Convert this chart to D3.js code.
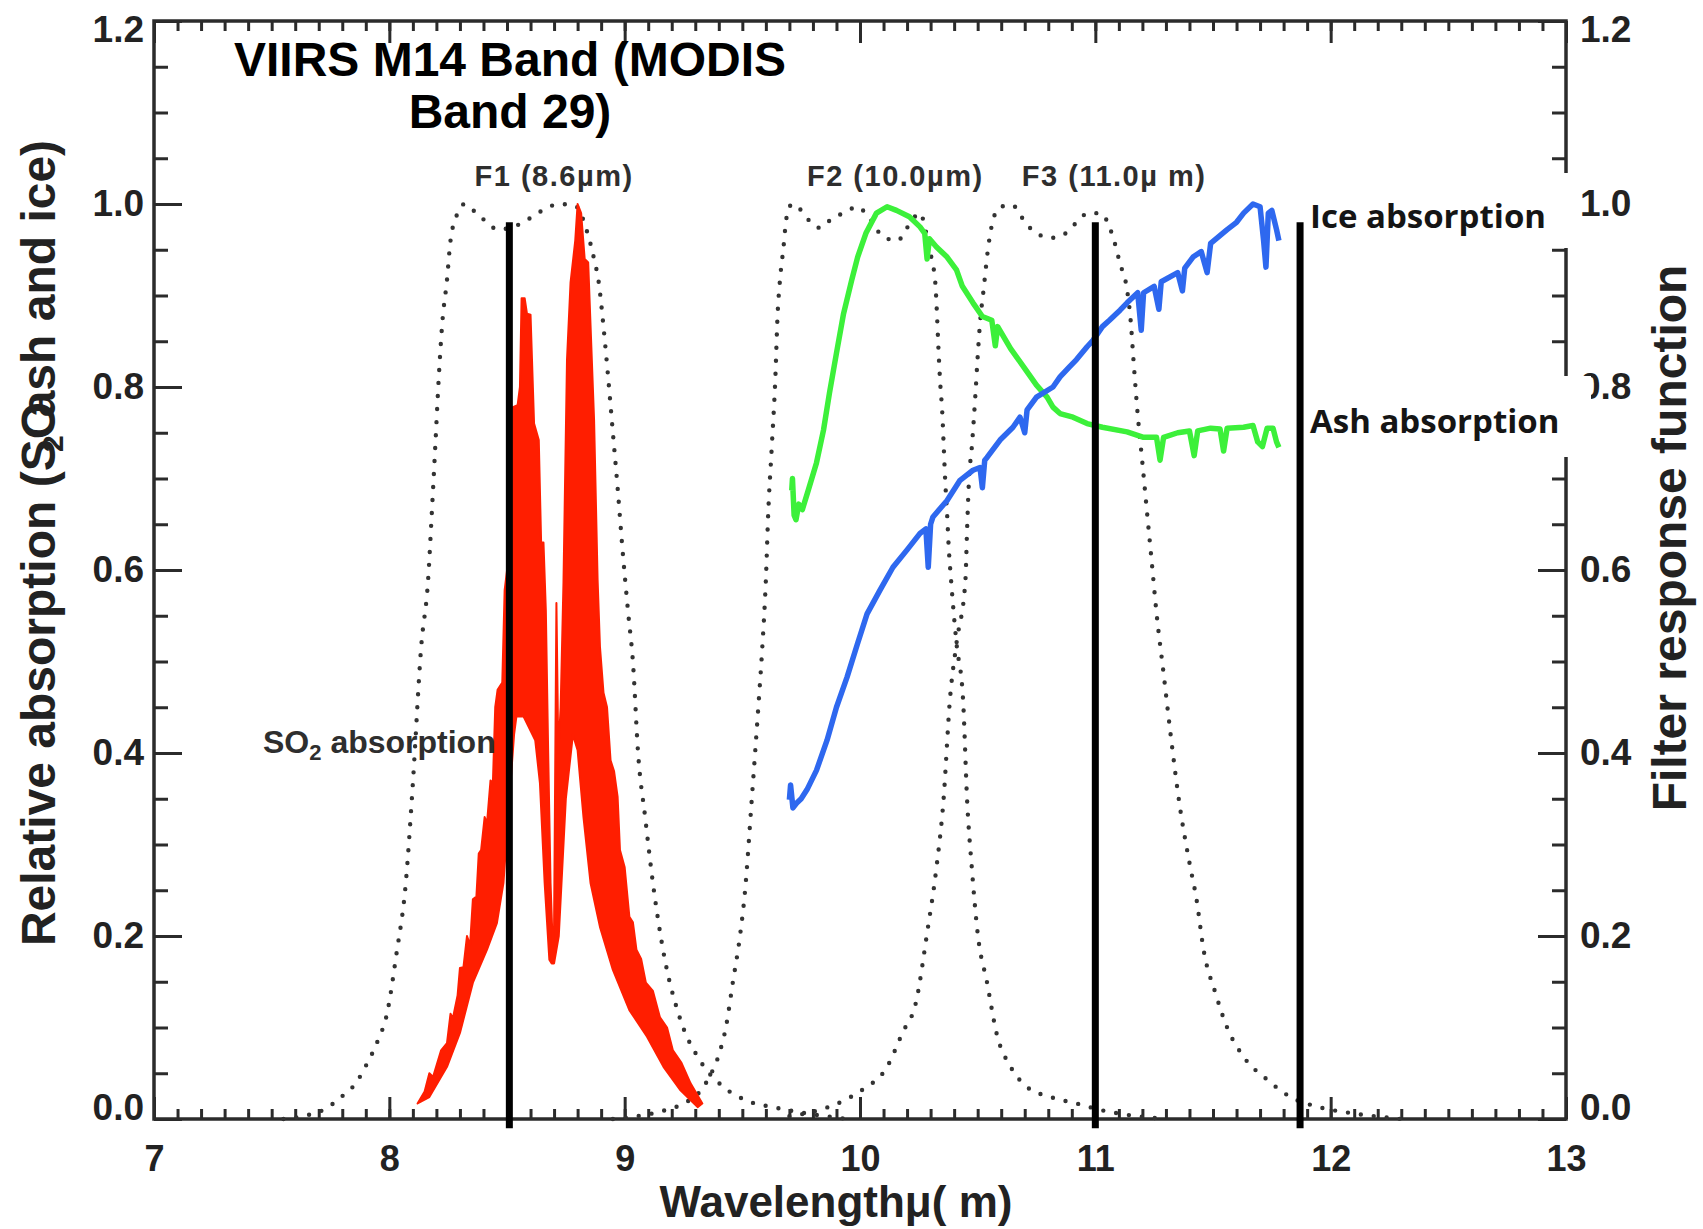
<!DOCTYPE html>
<html>
<head>
<meta charset="utf-8">
<script src="https://cdnjs.cloudflare.com/ajax/libs/d3/7.8.5/d3.min.js"></script>
</head>
<style>
body {
    margin: 0;
    background: #fff;
}
svg text {
    font-family: "Liberation Sans", Arial, Helvetica, sans-serif;
}
</style>
<body>
<svg id="chart"></svg>
<script>

// axis ticks
const xTicks = [7, 8, 9, 10, 11, 12, 13];
const yTicks = [0, 0.2, 0.4, 0.6, 0.8, 1.0, 1.2];

// filter response functions [wavelength, response]
const filterF1 = [[7.55, 0], [7.65, 0.004], [7.72, 0.01], [7.8, 0.025], [7.86, 0.04], [7.9, 0.058],
    [7.95, 0.085], [7.99, 0.115], [8.03, 0.18], [8.07, 0.258], [8.1, 0.367], [8.135, 0.515],
    [8.165, 0.59], [8.18, 0.66], [8.195, 0.734], [8.21, 0.81], [8.225, 0.87], [8.245, 0.917],
    [8.26, 0.96], [8.29, 0.99], [8.32, 1.0], [8.37, 0.99], [8.415, 0.98], [8.46, 0.972],
    [8.57, 0.98], [8.63, 0.99], [8.725, 1.0], [8.79, 0.998], [8.84, 0.97], [8.87, 0.94],
    [8.89, 0.914], [8.91, 0.866], [8.93, 0.81], [8.95, 0.75], [8.97, 0.69], [8.99, 0.625],
    [9.015, 0.553], [9.035, 0.5], [9.057, 0.4], [9.087, 0.33], [9.12, 0.258], [9.163, 0.185],
    [9.235, 0.11], [9.32, 0.064], [9.42, 0.035], [9.52, 0.02], [9.65, 0.012], [9.8, 0.005], [9.95, 0]];

const filterF2 = [[8.95, 0], [9.05, 0.003], [9.15, 0.008], [9.25, 0.017], [9.32, 0.03], [9.36, 0.046],
    [9.4, 0.07], [9.43, 0.1], [9.46, 0.15], [9.49, 0.2], [9.51, 0.245], [9.54, 0.349], [9.57, 0.458],
    [9.585, 0.516], [9.6, 0.589], [9.61, 0.662], [9.625, 0.734], [9.64, 0.808], [9.65, 0.88],
    [9.66, 0.917], [9.675, 0.953], [9.685, 0.98], [9.7, 0.997], [9.715, 1.0], [9.76, 0.99],
    [9.79, 0.98], [9.83, 0.974], [9.885, 0.985], [9.93, 0.99], [9.99, 0.997], [10.03, 0.988],
    [10.1, 0.964], [10.16, 0.96], [10.2, 0.974], [10.255, 0.99], [10.285, 0.964], [10.305, 0.939],
    [10.32, 0.914], [10.327, 0.88], [10.333, 0.844], [10.34, 0.808], [10.35, 0.77], [10.356, 0.734],
    [10.362, 0.698], [10.37, 0.662], [10.377, 0.625], [10.387, 0.589], [10.41, 0.52], [10.438, 0.458],
    [10.455, 0.349], [10.475, 0.275], [10.5, 0.203], [10.54, 0.149], [10.58, 0.094], [10.64, 0.057],
    [10.71, 0.035], [10.81, 0.024], [10.92, 0.017], [11.02, 0.01], [11.15, 0.004], [11.3, 0]];

const filterF3 = [[9.7, 0.003], [9.8, 0.008], [9.93, 0.02], [10.01, 0.032], [10.115, 0.057], [10.18, 0.094],
    [10.24, 0.13], [10.285, 0.203], [10.325, 0.275], [10.355, 0.349], [10.382, 0.458], [10.41, 0.52],
    [10.448, 0.589], [10.455, 0.644], [10.463, 0.698], [10.475, 0.734], [10.49, 0.79], [10.5, 0.833],
    [10.51, 0.87], [10.525, 0.906], [10.545, 0.953], [10.575, 0.99], [10.6, 0.997], [10.645, 0.999],
    [10.71, 0.977], [10.765, 0.966], [10.815, 0.963], [10.88, 0.969], [10.92, 0.98], [10.97, 0.99],
    [11.02, 0.99], [11.075, 0.964], [11.105, 0.935], [11.135, 0.906], [11.15, 0.873], [11.162, 0.83],
    [11.18, 0.77], [11.2, 0.717], [11.22, 0.662], [11.24, 0.608], [11.26, 0.553], [11.29, 0.487],
    [11.32, 0.42], [11.36, 0.34], [11.4, 0.28], [11.43, 0.24], [11.46, 0.185], [11.51, 0.138],
    [11.56, 0.1], [11.63, 0.068], [11.73, 0.043], [11.83, 0.024], [11.95, 0.013], [12.1, 0.006], [12.3, 0]];

// SO2 absorption band, upper and lower edge of the noisy trace
const so2Upper = [[8.12, 0.017], [8.15, 0.03], [8.17, 0.05], [8.186, 0.046], [8.22, 0.075], [8.245, 0.083],
    [8.26, 0.115], [8.27, 0.11], [8.29, 0.135], [8.3, 0.165], [8.315, 0.166], [8.33, 0.2], [8.343, 0.19],
    [8.355, 0.24], [8.37, 0.243], [8.38, 0.29], [8.39, 0.294], [8.405, 0.33], [8.415, 0.323],
    [8.43, 0.37], [8.44, 0.367], [8.45, 0.45], [8.46, 0.469], [8.48, 0.477],
    [8.49, 0.578], [8.51, 0.62], [8.525, 0.778], [8.545, 0.78], [8.555, 0.8], [8.562, 0.897],
    [8.575, 0.897], [8.585, 0.88], [8.6, 0.879], [8.615, 0.76], [8.635, 0.742], [8.645, 0.63],
    [8.655, 0.63], [8.665, 0.556], [8.675, 0.4], [8.685, 0.258], [8.695, 0.185], [8.7, 0.21],
    [8.71, 0.564], [8.718, 0.4], [8.728, 0.45], [8.74, 0.586], [8.755, 0.83], [8.77, 0.914],
    [8.79, 0.96], [8.8, 1.0], [8.815, 0.99], [8.83, 0.94], [8.845, 0.936], [8.87, 0.764],
    [8.885, 0.589], [8.895, 0.516], [8.91, 0.466], [8.925, 0.45], [8.94, 0.392], [8.955, 0.38],
    [8.97, 0.352], [8.98, 0.294], [9.0, 0.275], [9.02, 0.221], [9.035, 0.215], [9.05, 0.185],
    [9.07, 0.175], [9.09, 0.149], [9.12, 0.14], [9.15, 0.111], [9.18, 0.1], [9.205, 0.075],
    [9.24, 0.062], [9.28, 0.039], [9.33, 0.017]];

const so2Lower = [[8.12, 0.017], [8.17, 0.024], [8.245, 0.057], [8.3, 0.094], [8.355, 0.149], [8.415, 0.185],
    [8.457, 0.214], [8.485, 0.258], [8.51, 0.35], [8.53, 0.42], [8.54, 0.44], [8.57, 0.44],
    [8.62, 0.414], [8.64, 0.367], [8.66, 0.258], [8.68, 0.174], [8.69, 0.17], [8.7, 0.17],
    [8.72, 0.2], [8.75, 0.35], [8.78, 0.42], [8.8, 0.403], [8.825, 0.33], [8.855, 0.258],
    [8.895, 0.21], [8.95, 0.163], [9.02, 0.119], [9.095, 0.09], [9.165, 0.057], [9.235, 0.032],
    [9.31, 0.013], [9.33, 0.017]];

// ash absorption
const ashAbs = [[9.71, 0.687], [9.713, 0.7], [9.72, 0.66], [9.728, 0.655], [9.74, 0.672], [9.755, 0.666],
    [9.78, 0.687], [9.815, 0.717], [9.845, 0.753], [9.87, 0.793], [9.9, 0.837], [9.93, 0.88],
    [9.965, 0.917], [9.99, 0.942], [10.025, 0.968], [10.07, 0.99], [10.115, 0.997], [10.155, 0.993],
    [10.21, 0.986], [10.255, 0.975], [10.275, 0.968], [10.285, 0.94], [10.295, 0.962], [10.325, 0.953],
    [10.37, 0.942], [10.41, 0.928], [10.435, 0.91], [10.48, 0.892], [10.52, 0.877], [10.56, 0.873],
    [10.575, 0.845], [10.585, 0.866], [10.64, 0.842], [10.69, 0.824], [10.75, 0.802], [10.795, 0.789],
    [10.82, 0.778], [10.85, 0.771], [10.905, 0.767], [10.965, 0.76], [11.03, 0.756], [11.135, 0.751],
    [11.205, 0.745], [11.26, 0.745], [11.275, 0.72], [11.29, 0.745], [11.35, 0.75], [11.4, 0.752],
    [11.42, 0.725], [11.435, 0.752], [11.49, 0.755], [11.53, 0.754], [11.545, 0.73], [11.56, 0.755],
    [11.63, 0.756], [11.67, 0.758], [11.69, 0.74], [11.71, 0.735], [11.73, 0.755], [11.755, 0.755],
    [11.77, 0.74], [11.78, 0.734]];

// ice absorption
const iceAbs = [[9.7, 0.349], [9.705, 0.365], [9.715, 0.34], [9.73, 0.345], [9.75, 0.35], [9.775, 0.36],
    [9.815, 0.381], [9.86, 0.414], [9.9, 0.45], [9.945, 0.483], [9.99, 0.52], [10.03, 0.552],
    [10.085, 0.578], [10.14, 0.603], [10.2, 0.622], [10.255, 0.64], [10.28, 0.645], [10.29, 0.603],
    [10.3, 0.65], [10.31, 0.658], [10.37, 0.676], [10.425, 0.698], [10.48, 0.709], [10.51, 0.712],
    [10.52, 0.69], [10.53, 0.72], [10.54, 0.723], [10.595, 0.742], [10.65, 0.756], [10.68, 0.767],
    [10.7, 0.75], [10.71, 0.775], [10.75, 0.789], [10.82, 0.8], [10.85, 0.811], [10.89, 0.822],
    [10.92, 0.83], [10.965, 0.844], [10.99, 0.851], [11.03, 0.866], [11.06, 0.873], [11.105, 0.884],
    [11.135, 0.892], [11.18, 0.903], [11.195, 0.862], [11.205, 0.903], [11.25, 0.91], [11.27, 0.885],
    [11.28, 0.915], [11.35, 0.925], [11.37, 0.905], [11.38, 0.93], [11.415, 0.942], [11.45, 0.948],
    [11.475, 0.925], [11.49, 0.957], [11.56, 0.972], [11.6, 0.98], [11.63, 0.99], [11.67, 1.0],
    [11.7, 0.997], [11.715, 0.96], [11.725, 0.931], [11.735, 0.99], [11.75, 0.993], [11.77, 0.972],
    [11.78, 0.96]];

// vertical band markers
const markerLines = [8.51, 11.0, 11.87];

const filterLabels = [
    { text: 'F1 (8.6µm)', at: 8.7 },
    { text: 'F2 (10.0µm)', at: 10.15 },
    { text: 'F3 (11.0µ m)', at: 11.08 }
];

const width = 1703, height = 1229;

const svg = d3.select('svg#chart')
    .attr('width', width)
    .attr('height', height);

const x = d3.scaleLinear().domain([7, 13]).range([154, 1566]);
const y = d3.scaleLinear().domain([0, 1.2]).range([1119, 21]);

const INK = '#2b2b2b';

function styleAxis(g, fontSize) {
    g.select('.domain').remove();
    g.selectAll('.tick line').attr('stroke', INK).attr('stroke-width', 3);
    g.selectAll('.tick text')
        .attr('fill', '#222')
        .attr('font-size', fontSize)
        .attr('font-weight', 'bold')
        .attr('font-family', '"Liberation Sans", Arial, sans-serif');
}

// x axes (bottom with labels, top mirrored)
svg.append('g').attr('transform', `translate(0,${y(0)})`)
    .call(d3.axisBottom(x).ticks(60).tickFormat('').tickSize(-10).tickSizeOuter(0))
    .call(g => styleAxis(g, 36));
svg.append('g').attr('transform', `translate(0,${y(0)})`)
    .call(d3.axisBottom(x).tickValues(xTicks).tickFormat(d3.format('d')).tickSize(-22).tickSizeOuter(0).tickPadding(26))
    .call(g => styleAxis(g, 36));
svg.append('g').attr('transform', `translate(0,${y(1.2)})`)
    .call(d3.axisTop(x).ticks(60).tickFormat('').tickSize(-10).tickSizeOuter(0))
    .call(g => styleAxis(g, 36));
svg.append('g').attr('transform', `translate(0,${y(1.2)})`)
    .call(d3.axisTop(x).tickValues(xTicks).tickFormat('').tickSize(-22).tickSizeOuter(0))
    .call(g => styleAxis(g, 36));

// y axes (left absorption, right filter response)
function nudgeEnds(g) {
    g.selectAll('.tick text')
        .attr('y', d => d === 0 ? -11 : (d === 1.2 ? 9 : 0));
}
svg.append('g').attr('transform', `translate(${x(7)},0)`)
    .call(d3.axisLeft(y).ticks(24).tickFormat('').tickSize(-14).tickSizeOuter(0))
    .call(g => styleAxis(g, 37));
svg.append('g').attr('transform', `translate(${x(7)},0)`)
    .call(d3.axisLeft(y).tickValues(yTicks).tickFormat(d3.format('.1f')).tickSize(-28).tickSizeOuter(0).tickPadding(10))
    .call(g => styleAxis(g, 37))
    .call(nudgeEnds);
svg.append('g').attr('transform', `translate(${x(13)},0)`)
    .call(d3.axisRight(y).ticks(24).tickFormat('').tickSize(-14).tickSizeOuter(0))
    .call(g => styleAxis(g, 37));
svg.append('g').attr('transform', `translate(${x(13)},0)`)
    .call(d3.axisRight(y).tickValues(yTicks).tickFormat(d3.format('.1f')).tickSize(-28).tickSizeOuter(0).tickPadding(14))
    .call(g => styleAxis(g, 37))
    .call(nudgeEnds);

// frame
svg.append('rect')
    .attr('x', x(7))
    .attr('y', y(1.2))
    .attr('width', x(13) - x(7))
    .attr('height', y(0) - y(1.2))
    .attr('fill', 'none')
    .attr('stroke', INK)
    .attr('stroke-width', 3.5);

const line = d3.line().x(d => x(d[0])).y(d => y(d[1]));
const smooth = d3.line().x(d => x(d[0])).y(d => y(d[1])).curve(d3.curveMonotoneX);

// dotted filter curves
[filterF1, filterF2, filterF3].forEach(f => {
    svg.append('path')
        .attr('d', smooth(f))
        .attr('fill', 'none')
        .attr('stroke', '#333')
        .attr('stroke-width', 4.4)
        .attr('stroke-linecap', 'round')
        .attr('stroke-dasharray', '0 13');
});

// SO2 band
svg.append('path')
    .attr('d', line(so2Upper.concat(so2Lower.slice().reverse())) + 'Z')
    .attr('fill', '#ff1e00')
    .attr('stroke', '#ff1e00')
    .attr('stroke-width', 2)
    .attr('stroke-linejoin', 'round');

svg.append('path')
    .attr('d', line(ashAbs))
    .attr('fill', 'none')
    .attr('stroke', '#3cf03a')
    .attr('stroke-width', 5.5)
    .attr('stroke-linejoin', 'round');

svg.append('path')
    .attr('d', line(iceAbs))
    .attr('fill', 'none')
    .attr('stroke', '#2e68ef')
    .attr('stroke-width', 5.5)
    .attr('stroke-linejoin', 'round');

svg.selectAll('line.marker').data(markerLines).enter().append('line')
    .classed('marker', true)
    .attr('x1', d => x(d)).attr('x2', d => x(d))
    .attr('y1', y(0.98)).attr('y2', y(-0.01))
    .attr('stroke', '#000')
    .attr('stroke-width', 7);

// label boxes that cover the right axis
svg.append('rect').attr('x', 1304).attr('y', 173).attr('width', 274).attr('height', 75).attr('fill', '#fff');
svg.append('rect').attr('x', 1304).attr('y', 376).attr('width', 287).attr('height', 81).attr('fill', '#fff');

svg.append('text')
    .attr('x', 1310).attr('y', 228)
    .attr('font-weight', 700)
    .attr('font-size', 33)
    .attr('fill', '#151515')
    .attr('style', 'font-family:"Open Sans",sans-serif')
    .text('Ice absorption');
svg.append('text')
    .attr('x', 1310).attr('y', 433)
    .attr('font-weight', 700)
    .attr('font-size', 33)
    .attr('fill', '#151515')
    .attr('style', 'font-family:"Open Sans",sans-serif')
    .text('Ash absorption');

// filter labels
svg.selectAll('text.flabel').data(filterLabels).enter().append('text')
    .classed('flabel', true)
    .attr('x', d => x(d.at))
    .attr('y', 186)
    .attr('text-anchor', 'middle')
    .attr('font-size', 29)
    .attr('font-weight', 'bold')
    .attr('letter-spacing', 1.5)
    .attr('fill', '#2e2e2e')
    .text(d => d.text);

const so2 = svg.append('text')
    .attr('x', 263).attr('y', 753)
    .attr('font-size', 32)
    .attr('font-weight', 'bold')
    .attr('fill', '#2e2e2e');
so2.append('tspan').text('SO');
so2.append('tspan').attr('font-size', 22).attr('dy', 7).text('2');
so2.append('tspan').attr('dy', -7).text(' absorption');

// title
svg.append('text')
    .attr('x', 510).attr('y', 76)
    .attr('text-anchor', 'middle')
    .attr('font-size', 48)
    .attr('font-weight', 'bold')
    .attr('fill', '#000')
    .text('VIIRS M14 Band (MODIS');
svg.append('text')
    .attr('x', 510).attr('y', 128)
    .attr('text-anchor', 'middle')
    .attr('font-size', 48)
    .attr('font-weight', 'bold')
    .attr('fill', '#000')
    .text('Band 29)');

// axis titles
const yLabel = svg.append('text')
    .attr('transform', 'translate(55,543) rotate(-90)')
    .attr('text-anchor', 'middle')
    .attr('font-size', 48)
    .attr('font-weight', 'bold')
    .attr('fill', '#222');
yLabel.append('tspan').text('Relative absorption (SO');
yLabel.append('tspan').attr('font-size', 30).attr('dy', 8).attr('dx', -50).text('2');
yLabel.append('tspan').attr('dy', -8).attr('dx', 18).text('ash and ice)');

svg.append('text')
    .attr('transform', 'translate(1686,538) rotate(-90)')
    .attr('text-anchor', 'middle')
    .attr('font-size', 48)
    .attr('font-weight', 'bold')
    .attr('fill', '#222')
    .text('Filter response function');

svg.append('text')
    .attr('x', 836).attr('y', 1217)
    .attr('text-anchor', 'middle')
    .attr('font-size', 44)
    .attr('font-weight', 'bold')
    .attr('fill', '#222')
    .text('Wavelengthμ( m)');

</script>
</body>
</html>
